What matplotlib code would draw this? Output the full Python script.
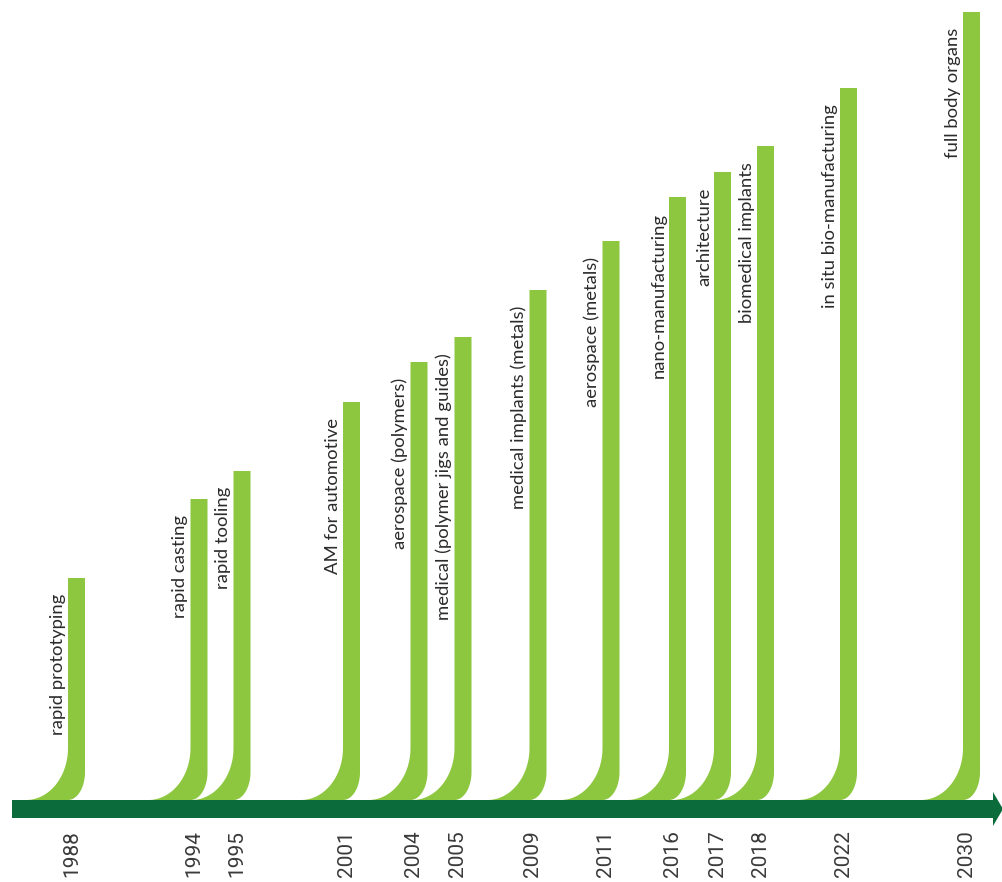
import numpy as np
import matplotlib
matplotlib.use('Agg')
import matplotlib.pyplot as plt
from matplotlib.patches import Polygon

# 时间线数据
years = ['1988', '1994', '1995', '2001', '2004', '2005', '2009',
         '2011', '2016', '2017', '2018', '2022', '2030']
events = ['rapid prototyping', 'rapid casting', 'rapid tooling',
          'AM for automotive', 'aerospace (polymers)',
          'medical (polymer jigs and guides)', 'medical implants (metals)',
          'aerospace (metals)', 'nano-manufacturing', 'architecture',
          'biomedical implants', 'in situ bio-manufacturing', 'full body organs']
# position along the timeline axis (axis units)
timeline_pos = [76.5, 199, 242, 351.5, 419, 463, 538, 611, 677.5, 722.5, 765.5, 848.5, 971.5]
# height of each stem above the axis
impact = [222, 301, 329, 398, 438, 463, 510, 559, 603, 628, 654, 712, 788]

LIGHT = '#8dc63f'
DARK = '#0b6b3a'

fig = plt.figure(figsize=(10.03, 8.82), dpi=100)
ax = fig.add_axes([0, 0, 1, 1])
ax.set_xlim(0, 1003)
ax.set_ylim(-82, 800)
ax.axis('off')


def stem_shape(c, h, w=17, a1=42, b1=52, a2=17, b2=28):
    """竖条 + 底部弯曲的尾巴"""
    L, R = c - w / 2, c + w / 2
    t = np.linspace(0, -np.pi / 2, 40)
    right = np.column_stack([R - a2 + a2 * np.cos(t), b2 + b2 * np.sin(t)])
    left = np.column_stack([L - a1 + a1 * np.cos(t[::-1]), b1 + b1 * np.sin(t[::-1])])
    pts = np.vstack([[[L, h], [R, h]], right, left])
    return pts


for c, h, ev, yr in zip(timeline_pos, impact, events, years):
    ax.add_patch(Polygon(stem_shape(c, h), closed=True, facecolor=LIGHT,
                         edgecolor='none', zorder=2))
    ax.text(c - 10.5, h - 16, ev, rotation=90, rotation_mode='anchor',
            ha='right', va='bottom', fontsize=13.3, family='Lato',
            color='#2b2b2b', zorder=3)
    ax.text(c - 5, -30, yr, rotation=90, rotation_mode='anchor',
            ha='right', va='center', fontsize=15, family='Roboto',
            color='#3a3a3a', zorder=3)

# 时间轴箭头
arrow = Polygon([[12, 0], [993, 0], [993, 8], [1003, -9], [993, -26],
                 [993, -18], [12, -18]], closed=True, facecolor=DARK,
                edgecolor='none', zorder=4)
ax.add_patch(arrow)

fig.savefig('out.png', dpi=100)
